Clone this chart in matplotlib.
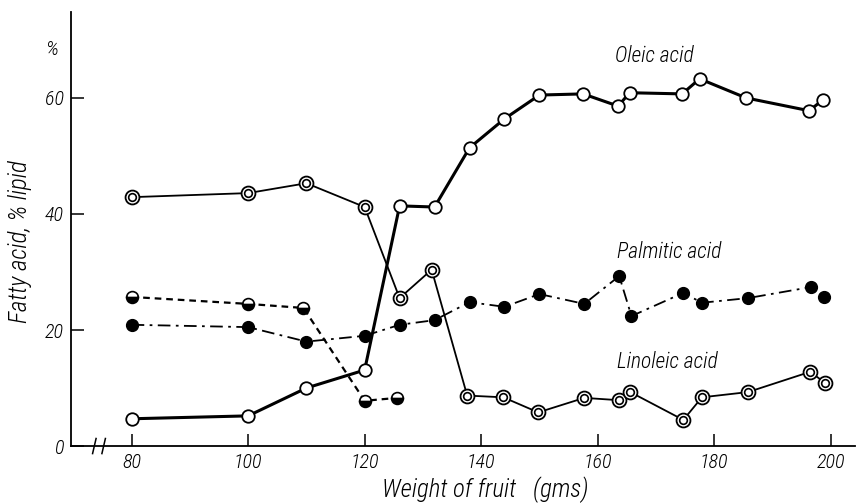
#Fatty acid composition of fruit lipid vs weight of fruit
import matplotlib
matplotlib.use("Agg")
import matplotlib.pyplot as plt
from matplotlib import font_manager

# pick a narrow font if one is there
names = set(f.name for f in font_manager.fontManager.ttflist)
font = 'DejaVu Sans'
for cand in ['Liberation Sans Narrow', 'Roboto Condensed', 'Open Sans Condensed', 'Liberation Sans']:
    if cand in names:
        font = cand
        break
plt.rcParams['font.family'] = [font, 'DejaVu Sans']
plt.rcParams['font.style'] = 'italic'
plt.rcParams['font.weight'] = 'light'

# oleic acid (open circles, heavy line)
oleic_x = [80, 100, 110, 120, 126, 132, 138, 144, 150, 157.5, 163.5, 165.5, 174.5, 177.5, 185.5, 196.3, 198.7]
oleic_y = [4.7, 5.2, 10.0, 13.1, 41.4, 41.2, 51.4, 56.4, 60.5, 60.7, 58.6, 60.9, 60.7, 63.3, 60.0, 57.8, 59.7]

# linoleic acid (double circles, thin line)
lino_x = [80, 100, 110, 120, 126, 131.5, 137.6, 143.8, 149.8, 157.7, 163.7, 165.6, 174.7, 177.9, 185.8, 196.5, 199]
lino_y = [42.9, 43.6, 45.3, 41.2, 25.5, 30.4, 8.7, 8.4, 5.8, 8.3, 7.9, 9.3, 4.5, 8.4, 9.3, 12.8, 10.9]

# palmitic acid (filled circles, dash-dot)
palm_x = [80, 100, 110, 120, 126, 132, 138, 144, 150, 157.7, 163.7, 165.8, 174.7, 177.9, 185.8, 196.6, 198.9]
palm_y = [20.9, 20.5, 18.0, 19.0, 20.9, 21.7, 24.8, 24.0, 26.2, 24.5, 29.3, 22.4, 26.4, 24.7, 25.5, 27.4, 25.7]

# half-filled circles, dashed
half_x = [80, 100, 109.5, 120, 125.6]
half_y = [25.7, 24.5, 23.8, 7.8, 8.3]

xticks = [80, 100, 120, 140, 160, 180, 200]
yticks = [0, 20, 40, 60]

fig = plt.figure(figsize=(8.62, 5.04), dpi=100)
ax = fig.add_axes([0.0824, 0.115, 0.909, 0.861])

ms = 9
ax.plot(palm_x, palm_y, color='black', lw=1.3, dashes=(7, 3, 1.5, 3),
        marker='o', ms=ms - 0.5, mfc='black', mec='black', zorder=3)
ax.plot(half_x, half_y, color='black', lw=1.6, dashes=(3, 2.2),
        marker='o', ms=ms - 0.5, fillstyle='bottom', mfc='black', mfcalt='white',
        mec='black', mew=1.2, zorder=3)
ax.plot(lino_x, lino_y, color='black', lw=1.3,
        marker='o', ms=ms + 1, mfc='white', mec='black', mew=1.3, zorder=4)
ax.plot(lino_x, lino_y, ls='none',
        marker='o', ms=ms - 3.5, mfc='white', mec='black', mew=1.2, zorder=5)
ax.plot(oleic_x, oleic_y, color='black', lw=2.2,
        marker='o', ms=ms, mfc='white', mec='black', mew=1.3, zorder=6)

ax.set_xlim(69.6, 204.1)
ax.set_ylim(0, 74.8)
ax.spines['top'].set_visible(False)
ax.spines['right'].set_visible(False)
ax.spines['left'].set_linewidth(1.3)
ax.spines['bottom'].set_linewidth(1.3)
ax.set_xticks(xticks)
ax.set_yticks(yticks)
ax.set_xticklabels([str(t) for t in xticks])
ax.set_yticklabels([str(t) for t in yticks])
ax.tick_params(direction='in', length=9, width=1.1, labelsize=14.5, pad=5)

# axis break marks
for bx in [73.6, 75.2]:
    ax.plot([bx - 0.3, bx + 0.3], [-1.3, 1.3], color='black', lw=1.1, clip_on=False)

ax.text(163, 67.3, 'Oleic acid', fontsize=15.5, ha='left', va='center')
ax.text(163.4, 33.4, 'Palmitic acid', fontsize=15.5, ha='left', va='center')
ax.text(163.4, 14.5, 'Linoleic acid', fontsize=15.5, ha='left', va='center')
ax.text(66.3, 68.3, '%', fontsize=15, ha='center', va='center')

fig.text(0.023, 0.52, 'Fatty acid, % lipid', rotation=90, fontsize=18, ha='center', va='center')
fig.text(0.563, 0.028, 'Weight of fruit   (gms)', fontsize=18, ha='center', va='center')

fig.savefig('out.png', dpi=100)
